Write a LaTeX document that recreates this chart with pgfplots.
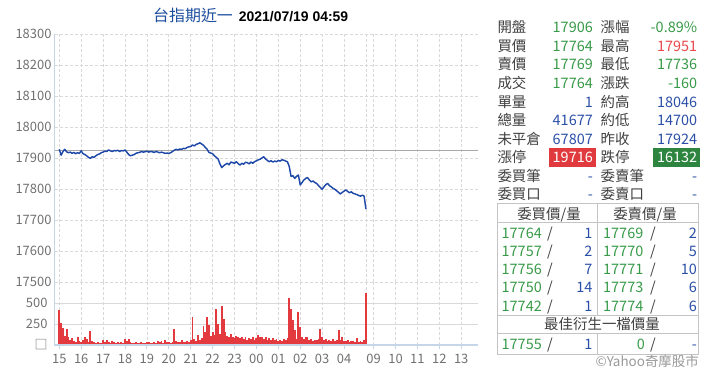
\documentclass[border=0pt]{standalone}
\usepackage{pgfplots}
\pgfplotsset{compat=1.18}
\usepackage{pgfplotstable}
\usepackage{fontspec}
\setmainfont{Noto Sans CJK TC}
\newfontfamily\arialfont{Liberation Sans}
\definecolor{tgreen}{HTML}{389A48}
\definecolor{tblue}{HTML}{2B4FA6}
\definecolor{tred}{HTML}{E8474B}
\definecolor{redbox}{HTML}{E0393E}
\definecolor{greenbox}{HTML}{2E8540}
\definecolor{labgray}{HTML}{404040}
\definecolor{titleblue}{HTML}{1D4E9E}
\definecolor{priceblue}{HTML}{1E48A8}
\definecolor{volred}{HTML}{E23A3F}
\definecolor{gridc}{HTML}{D9D9D9}
\definecolor{axisblue}{HTML}{C6D6E8}
\definecolor{tickgray}{HTML}{707070}
\definecolor{refgray}{HTML}{A8A8A8}
\definecolor{tabline}{HTML}{C4C4C4}

\pgfplotstableread[row sep=\\]{
p\\
17929\\17910\\17922\\17929\\17921\\17918\\17920\\17916\\17919\\17915\\17918\\17916\\
17924\\17915\\17912\\17908\\17903\\17900\\17905\\17903\\17908\\17912\\17914\\17918\\
17920\\17923\\17922\\17927\\17924\\17922\\17925\\17924\\17926\\17922\\17925\\17924\\
17927\\17920\\17912\\17908\\17910\\17912\\17916\\17918\\17919\\17922\\17920\\17921\\
17923\\17920\\17922\\17921\\17919\\17922\\17920\\17918\\17920\\17918\\17916\\17917\\
17916\\17918\\17922\\17926\\17929\\17927\\17930\\17929\\17932\\17931\\17935\\17937\\
17938\\17943\\17940\\17945\\17947\\17950\\17946\\17942\\17935\\17929\\17919\\17917\\
17915\\17908\\17903\\17898\\17882\\17870\\17876\\17880\\17884\\17879\\17888\\17886\\
17884\\17889\\17883\\17878\\17884\\17881\\17887\\17886\\17882\\17888\\17884\\17889\\
17892\\17895\\17897\\17901\\17905\\17898\\17893\\17889\\17892\\17888\\17891\\17889\\
17893\\17891\\17895\\17894\\17891\\17889\\17873\\17841\\17844\\17835\\17842\\17846\\
17814\\17822\\17830\\17835\\17838\\17830\\17824\\17827\\17822\\17819\\17812\\17806\\
17800\\17808\\17815\\17819\\17812\\17808\\17803\\17800\\17795\\17790\\17785\\17790\\
17794\\17798\\17793\\17789\\17792\\17787\\17785\\17783\\17780\\17778\\17781\\17778\\
17736\\
}\pricetable

\pgfplotstableread[row sep=\\]{
v\\
417\\265\\200\\110\\185\\90\\60\\80\\50\\40\\90\\45\\
30\\60\\100\\70\\40\\167\\50\\35\\25\\30\\20\\25\\
60\\40\\55\\30\\25\\45\\35\\20\\30\\25\\40\\20\\
70\\45\\70\\30\\25\\20\\35\\25\\20\\30\\25\\20\\
30\\40\\25\\20\\30\\25\\50\\30\\45\\25\\60\\40\\
30\\25\\40\\190\\50\\40\\30\\55\\40\\35\\50\\40\\
60\\337\\70\\50\\120\\60\\80\\226\\150\\337\\240\\110\\
150\\120\\425\\250\\130\\464\\310\\160\\110\\90\\130\\100\\
80\\110\\90\\80\\100\\70\\90\\60\\80\\70\\90\\60\\
80\\120\\90\\100\\70\\90\\60\\80\\60\\80\\55\\70\\
50\\60\\45\\70\\55\\80\\563\\429\\298\\180\\70\\389\\
218\\90\\70\\100\\100\\60\\70\\50\\60\\55\\70\\190\\
90\\60\\70\\50\\60\\45\\70\\50\\60\\180\\60\\100\\
50\\45\\60\\40\\50\\45\\40\\80\\40\\50\\40\\60\\
623\\
}\voltable

\newcommand\fs{\fontsize{14.5}{14.5}\selectfont}
\newcommand\tfs{\fontsize{13}{13}\selectfont}

\tikzset{
  lab/.style={anchor=base west, inner sep=0pt, text=labgray, font=\fs},
  vr/.style={anchor=base east, inner sep=0pt, font=\fs},
  vl/.style={anchor=base west, inner sep=0pt, font=\fs},
  vc/.style={anchor=base, inner sep=0pt, font=\fs},
}

\pgfplotsset{
  commonx/.style={
    scale only axis, width=423.5bp,
    xmin=-2.63, xmax=229.4,
    xtick={0,12,24,36,48,60,72,84,96,108,120,132,144,156,172.2,184.2,196.2,208.2,220.2},
    extra x ticks={168}, extra x tick labels={},
    extra x tick style={xmajorgrids=true, major tick length=0pt},
    axis line style={draw=none},
    xmajorgrids=true,
    x grid style={gridc, dash pattern=on 3bp off 2bp, line width=0.75bp},
    scaled y ticks=false,
    clip=true,
  }
}

\begin{document}
\begin{tikzpicture}
\useasboundingbox (0,0) rectangle (720bp,-386bp);

% title
\node[anchor=base west, inner sep=0pt] at (153bp,-21.5bp)
  {{\color{titleblue}\fontsize{16}{16}\selectfont 台指期近一}\hspace{6bp}{\arialfont\bfseries\fontsize{14}{14}\selectfont 2021/07/19 04:59}};

% price axis
\begin{axis}[commonx,
  at={(54.5bp,-282.3bp)}, anchor=south west, height=248bp,
  ymin=17500, ymax=18300,
  xticklabels={},
  tick style={draw=none},
  ytick={17500,17600,17700,17800,17900,18000,18100,18200,18300},
  yticklabels={17500,17600,17700,17800,17900,18000,18100,18200,18300},
  ymajorgrids=true,
  y grid style={gridc, dash pattern=on 3bp off 2bp, line width=0.75bp},
  yticklabel style={font=\tfs, text=tickgray, anchor=east, inner sep=0pt, xshift=-2.8bp},
]
\addplot[refgray, line width=1bp] coordinates {(-2.63,17924) (229.4,17924)};
\addplot[priceblue, line width=1.45bp, line join=round] table[x expr=\coordindex, y=p]{\pricetable};
\end{axis}

% volume axis
\begin{axis}[commonx,
  at={(54.5bp,-345bp)}, anchor=south west, height=62.7bp,
  ymin=0, ymax=746,
  xticklabels={15,16,17,18,19,20,21,22,23,00,01,02,03,04,09,10,11,12,13},
  tick pos=left, tick align=outside,
  xtick style={draw=axisblue, line width=1bp},
  ytick style={draw=none},
  major tick length=4bp,
  xticklabel style={font=\tfs, text=tickgray, anchor=north, inner sep=0pt, yshift=-5bp},
  ytick={0,250,500},
  yticklabels={□,250,500},
  ymajorgrids=true,
  y grid style={gridc, line width=0.9bp},
  yticklabel style={font=\tfs, text=tickgray, anchor=east, inner sep=0pt, xshift=-2.8bp},
]
\addplot[ycomb, volred, line width=1.9bp] table[x expr=\coordindex, y=v]{\voltable};
\end{axis}

% axis lines
\draw[axisblue, line width=1.6bp] (54.5bp,-34.3bp) -- (54.5bp,-345bp) -- (478bp,-345bp);

% right panel
\node[lab] at (497.3bp,-32.8bp) {開盤};
\node[vr,text=tgreen] at (593bp,-32.8bp) {17906};
\node[lab] at (600.5bp,-32.8bp) {漲幅};
\node[vr,text=tgreen] at (697.3bp,-32.8bp) {-0.89\%};

\node[lab] at (497.3bp,-51.35bp) {買價};
\node[vr,text=tgreen] at (593bp,-51.35bp) {17764};
\node[lab] at (600.5bp,-51.35bp) {最高};
\node[vr,text=tred] at (697.3bp,-51.35bp) {17951};

\node[lab] at (497.3bp,-69.9bp) {賣價};
\node[vr,text=tgreen] at (593bp,-69.9bp) {17769};
\node[lab] at (600.5bp,-69.9bp) {最低};
\node[vr,text=tgreen] at (697.3bp,-69.9bp) {17736};

\node[lab] at (497.3bp,-88.45bp) {成交};
\node[vr,text=tgreen] at (593bp,-88.45bp) {17764};
\node[lab] at (600.5bp,-88.45bp) {漲跌};
\node[vr,text=tgreen] at (697.3bp,-88.45bp) {-160};

\node[lab] at (497.3bp,-107bp) {單量};
\node[vr,text=tblue] at (593bp,-107bp) {1};
\node[lab] at (600.5bp,-107bp) {約高};
\node[vr,text=tblue] at (697.3bp,-107bp) {18046};

\node[lab] at (497.3bp,-125.55bp) {總量};
\node[vr,text=tblue] at (593bp,-125.55bp) {41677};
\node[lab] at (600.5bp,-125.55bp) {約低};
\node[vr,text=tblue] at (697.3bp,-125.55bp) {14700};

\node[lab] at (497.3bp,-144.1bp) {未平倉};
\node[vr,text=tblue] at (593bp,-144.1bp) {67807};
\node[lab] at (600.5bp,-144.1bp) {昨收};
\node[vr,text=tblue] at (697.3bp,-144.1bp) {17924};

\fill[redbox] (548.7bp,-147.7bp) rectangle (596bp,-166.7bp);
\fill[greenbox] (652.7bp,-147.7bp) rectangle (699.8bp,-166.7bp);
\node[lab] at (497.3bp,-162.65bp) {漲停};
\node[vr,text=white] at (593bp,-162.65bp) {19716};
\node[lab] at (600.5bp,-162.65bp) {跌停};
\node[vr,text=white] at (697.3bp,-162.65bp) {16132};

\node[lab] at (497.3bp,-181.2bp) {委買筆};
\node[vr,text=tblue] at (593bp,-181.2bp) {-};
\node[lab] at (600.5bp,-181.2bp) {委賣筆};
\node[vr,text=tblue] at (697.3bp,-181.2bp) {-};

\node[lab] at (497.3bp,-199.75bp) {委買口};
\node[vr,text=tblue] at (593bp,-199.75bp) {-};
\node[lab] at (600.5bp,-199.75bp) {委賣口};
\node[vr,text=tblue] at (697.3bp,-199.75bp) {-};

% table
\draw[tabline, line width=1bp] (497.3bp,-203.3bp) rectangle (698.7bp,-354.3bp);
\draw[tabline, line width=1bp] (497.3bp,-222.7bp) -- (698.7bp,-222.7bp);
\draw[tabline, line width=1bp] (497.3bp,-315.7bp) -- (698.7bp,-315.7bp);
\draw[tabline, line width=1bp] (497.3bp,-333.3bp) -- (698.7bp,-333.3bp);
\draw[tabline, line width=1bp] (597.3bp,-203.3bp) -- (597.3bp,-315.7bp);
\draw[tabline, line width=1bp] (597.3bp,-333.3bp) -- (597.3bp,-354.3bp);

\node[vc,text=labgray] at (549bp,-219.3bp) {委買價/量};
\node[vc,text=labgray] at (645bp,-219.3bp) {委賣價/量};

\foreach \yy/\pa/\qa/\pb/\qb in {238/17764/1/17769/2, 256.25/17757/2/17770/5, 274.5/17756/7/17771/10, 292.75/17750/14/17773/6, 311/17742/1/17774/6}{
  \node[vl,text=tgreen] at (501.5bp,-\yy bp) {\pa};
  \node[vc,text=labgray] at (550bp,-\yy bp) {/};
  \node[vr,text=tblue] at (592.5bp,-\yy bp) {\qa};
  \node[vl,text=tgreen] at (603bp,-\yy bp) {\pb};
  \node[vc,text=labgray] at (653bp,-\yy bp) {/};
  \node[vr,text=tblue] at (697bp,-\yy bp) {\qb};
}

\node[vc,text=labgray] at (602bp,-329.8bp) {最佳衍生一檔價量};

\node[vl,text=tgreen] at (501.5bp,-349.1bp) {17755};
\node[vc,text=labgray] at (550bp,-349.1bp) {/};
\node[vr,text=tblue] at (592.5bp,-349.1bp) {1};
\node[vr,text=tgreen] at (645bp,-349.1bp) {0};
\node[vc,text=labgray] at (653bp,-349.1bp) {/};
\node[vr,text=tblue] at (697bp,-349.1bp) {-};

\node[anchor=base east, inner sep=0pt, text=gray!80, font=\fontsize{13.5}{13.5}\selectfont] at (699bp,-366.5bp) {©Yahoo奇摩股市};

\end{tikzpicture}
\end{document}
